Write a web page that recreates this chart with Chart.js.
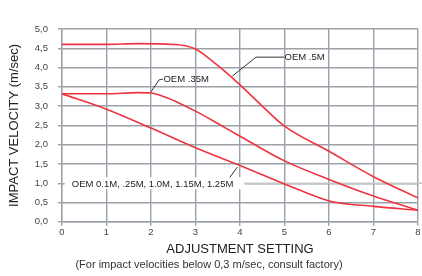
<!DOCTYPE html>
<html>
<head>
<meta charset="utf-8">
<script src="https://cdn.jsdelivr.net/npm/chart.js@4/dist/chart.umd.min.js"></script>
<style>
  html, body { margin: 0; padding: 0; background: #fff; }
  #wrap { width: 422px; height: 276px; position: relative; }
</style>
</head>
<body>
<div id="wrap"><canvas id="impactChart"></canvas></div>
<script>
// adjustment setting (x) / impact velocity m/sec (y)
const oem5X = [0, 1, 1.7, 2.5, 2.8, 3, 3.2, 3.45, 3.7, 4, 4.5, 5, 6, 7, 8];
const oem5Y = [4.6, 4.6, 4.62, 4.6, 4.56, 4.48, 4.33, 4.1, 3.86, 3.55, 3.0, 2.48, 1.83, 1.17, 0.62];

const oem35X = [0, 1, 1.7, 2, 2.3, 2.65, 3, 3.5, 4, 5, 6, 7, 8];
const oem35Y = [3.32, 3.32, 3.35, 3.34, 3.24, 3.07, 2.87, 2.55, 2.22, 1.58, 1.1, 0.67, 0.3];

const oemSmallX = [0, 1, 2, 3, 4, 5, 5.5, 6, 7, 8];
const oemSmallY = [3.32, 2.92, 2.43, 1.92, 1.46, 0.98, 0.75, 0.54, 0.4, 0.3];

const yTickLabels = ["0,0", "0,5", "1,0", "1,5", "2,0", "2,5", "3,0", "3,5", "4,0", "4,5", "5,0"];
const xTickLabels = ["0", "1", "2", "3", "4", "5", "6", "7", "8"];

const curveLabels = ["OEM .5M", "OEM .35M", "OEM 0.1M, .25M, 1.0M, 1.15M, 1.25M"];

const FONT = "'Liberation Sans', Arial, Helvetica, sans-serif";
const RED = "#ee3440";

function toPoints(xs, ys) {
  return xs.map((x, i) => ({ x: x, y: ys[i] }));
}

function makeSet(label, xs, ys) {
  return {
    label: label,
    data: toPoints(xs, ys),
    borderColor: RED,
    borderWidth: 1.6,
    pointRadius: 0,
    fill: false,
    cubicInterpolationMode: "monotone",
  };
}

// leader lines + curve labels, placed in data units
const notes = {
  id: "notes",
  beforeDatasetsDraw(chart) {
    const ctx = chart.ctx;
    const xs = chart.scales.x;
    const ys = chart.scales.y;
    // white box behind the long label, with the light leader running off to the right
    const y1 = ys.getPixelForValue(1.0);
    ctx.save();
    ctx.fillStyle = "#fff";
    ctx.fillRect(xs.getPixelForValue(0.06), y1 - 6, xs.getPixelForValue(4.1) - xs.getPixelForValue(0.06), 12);
    ctx.strokeStyle = "#c3c7cb";
    ctx.lineWidth = 1.5;
    ctx.beginPath();
    ctx.moveTo(xs.getPixelForValue(4.1), y1);
    ctx.lineTo(chart.width, y1);
    ctx.stroke();
    ctx.restore();
  },
  afterDatasetsDraw(chart) {
    const ctx = chart.ctx;
    const px = (v) => chart.scales.x.getPixelForValue(v);
    const py = (v) => chart.scales.y.getPixelForValue(v);
    ctx.save();
    ctx.strokeStyle = "#333";
    ctx.lineWidth = 1;
    ctx.fillStyle = "#222";
    ctx.font = "9.5px " + FONT;
    ctx.textBaseline = "middle";
    ctx.textAlign = "left";

    // OEM .5M
    ctx.beginPath();
    ctx.moveTo(px(3.83), py(3.78));
    ctx.lineTo(px(4.36), py(4.27));
    ctx.lineTo(px(4.99), py(4.27));
    ctx.stroke();
    ctx.fillText(curveLabels[0], px(5.0), py(4.27));

    // OEM .35M
    ctx.beginPath();
    ctx.moveTo(px(2.0), py(3.37));
    ctx.lineTo(px(2.18), py(3.68));
    ctx.lineTo(px(2.27), py(3.70));
    ctx.stroke();
    ctx.fillText(curveLabels[1], px(2.28), py(3.70));

    // OEM 0.1M ... 1.25M
    ctx.beginPath();
    ctx.moveTo(px(3.77), py(1.15));
    ctx.lineTo(px(3.94), py(1.42));
    ctx.stroke();
    ctx.fillText(curveLabels[2], px(0.22), py(0.98));
    ctx.restore();
  },
};

const gridStyle = {
  color: "#9aa1a8",
  lineWidth: 1.4,
  tickLength: 4,
  tickColor: "#9aa1a8",
};

new Chart(document.getElementById("impactChart"), {
  type: "line",
  data: {
    datasets: [
      makeSet(curveLabels[0], oem5X, oem5Y),
      makeSet(curveLabels[1], oem35X, oem35Y),
      makeSet(curveLabels[2], oemSmallX, oemSmallY),
    ],
  },
  options: {
    responsive: true,
    maintainAspectRatio: false,
    animation: false,
    layout: { padding: { top: 29, right: 4, left: 0, bottom: 0 } },
    plugins: {
      legend: { display: false },
      tooltip: { enabled: false },
      subtitle: {
        display: true,
        position: "bottom",
        text: "(For impact velocities below 0,3 m/sec, consult factory)",
        color: "#333",
        font: { family: FONT, size: 11 },
        padding: { top: 2, bottom: 4 },
      },
    },
    scales: {
      x: {
        type: "linear",
        min: 0,
        max: 8,
        border: { color: "#9aa1a8", width: 1.4 },
        grid: gridStyle,
        ticks: {
          stepSize: 1,
          padding: 1,
          color: "#444",
          font: { family: FONT, size: 9.5 },
          maxRotation: 0,
          callback: (v) => xTickLabels[v],
        },
        title: {
          display: true,
          text: "ADJUSTMENT SETTING",
          color: "#222",
          font: { family: FONT, size: 13 },
          padding: { top: 2, bottom: 0 },
        },
      },
      y: {
        min: 0,
        max: 5,
        border: { color: "#9aa1a8", width: 1.4 },
        grid: gridStyle,
        afterFit: (scale) => { scale.width = 62; },
        ticks: {
          stepSize: 0.5,
          padding: 10,
          color: "#444",
          font: { family: FONT, size: 9.5 },
          callback: (v) => yTickLabels[Math.round(v * 2)],
        },
        title: {
          display: true,
          text: "IMPACT VELOCITY (m/sec)",
          color: "#222",
          font: { family: FONT, size: 13 },
          padding: { top: 7, bottom: 0 },
        },
      },
    },
  },
  plugins: [notes],
});
</script>
</body>
</html>
